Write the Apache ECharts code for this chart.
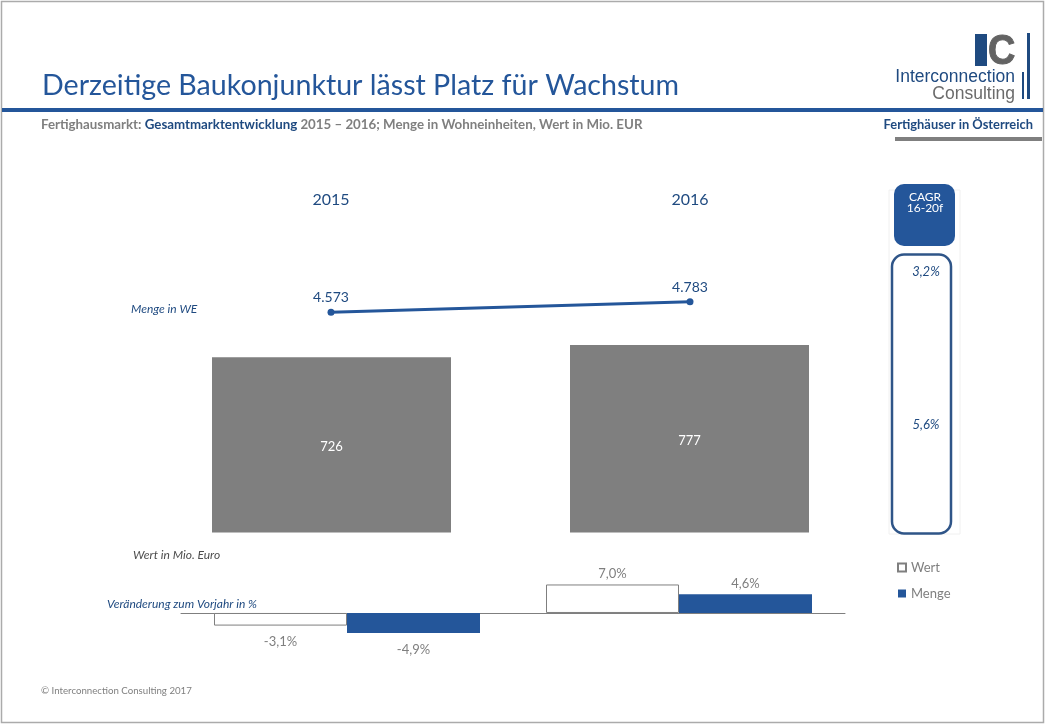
<!DOCTYPE html>
<html>
<head>
<meta charset="utf-8">
<style>html,body{margin:0;padding:0;background:#fff}#main{width:1046px;height:725px}</style>
<script src="https://cdn.jsdelivr.net/npm/echarts@6/dist/echarts.min.js"></script>
</head>
<body>
<div id="main"></div>
<script>
var years = ['2015', '2016'];
var mengeWE = [4573, 4783];
var wertMio = [726, 777];
var changeWert = [-3.1, 7.0];
var changeMenge = [-4.9, 4.6];
var cagrLabels = ['3,2%', '5,6%'];

var BLUE = '#24569a';
var NAVY = '#1f4a80';
var GREY = '#7f7f7f';
var FONT = 'Lato, "Noto Sans", sans-serif';

var myChart = echarts.init(document.getElementById('main'));

function comma(v, digits) {
  return v.toFixed(digits).replace('.', ',');
}

function note(x, y, text, color) {
  return {
    type: 'text', x: x, y: y,
    style: { text: text, fill: color, font: 'italic 12px ' + FONT, textVerticalAlign: 'middle' }
  };
}

// Beschriftung unter negativen Balken sitzt etwas weiter weg
function changeData(values) {
  return values.map(function (v) {
    return { value: v, label: { distance: v < 0 ? 10 : 4 } };
  });
}

var changeLabel = {
  show: true, position: 'outside', color: GREY, fontSize: 13,
  formatter: function (p) { return comma(p.value, 1) + '%'; }
};

var option = {
  animation: false,
  backgroundColor: '#fff',
  textStyle: { fontFamily: FONT },
  title: [{
    text: 'Derzeitige Baukonjunktur lässt Platz für Wachstum',
    left: 42, top: 71, padding: 0,
    textStyle: { color: BLUE, fontSize: 28.6, fontWeight: 'normal', fontFamily: FONT }
  }, {
    text: '{a|Fertighausmarkt: }{b|Gesamtmarktentwicklung}{a| 2015 – 2016; Menge in Wohneinheiten, Wert in Mio. EUR}',
    left: 41, top: 118, padding: 0,
    textStyle: {
      rich: {
        a: { color: GREY, fontSize: 13.3, fontFamily: FONT, fontWeight: 'bold' },
        b: { color: NAVY, fontSize: 13.3, fontFamily: FONT, fontWeight: 'bold' }
      }
    }
  }, {
    text: 'Fertighäuser in Österreich',
    right: 13, top: 118, padding: 0,
    textStyle: { color: NAVY, fontSize: 12.9, fontFamily: FONT, fontWeight: 'bold' }
  }],
  legend: {
    data: ['Wert', 'Menge'],
    orient: 'vertical',
    left: 897, top: 561, padding: 0,
    itemWidth: 8, itemHeight: 8, itemGap: 13,
    icon: 'rect',
    textStyle: { color: GREY, fontSize: 13 }
  },
  grid: [
    { left: 151.5, width: 718, top: 291, height: 50 },
    { left: 152.5, width: 716, top: 339.5, height: 193 },
    { left: 181, width: 664, top: 580.4, height: 57 }
  ],
  xAxis: [{
    gridIndex: 0, type: 'category', data: years, position: 'top',
    axisLine: { show: false }, axisTick: { show: false },
    axisLabel: { color: NAVY, fontSize: 16, margin: 83 }
  }, {
    gridIndex: 1, type: 'category', data: years,
    axisLine: { show: false }, axisTick: { show: false }, axisLabel: { show: false }
  }, {
    gridIndex: 2, type: 'category', data: years,
    axisLine: { onZero: true, lineStyle: { color: GREY, width: 1 } },
    axisTick: { show: false }, axisLabel: { show: false }
  }],
  yAxis: [{
    gridIndex: 0, type: 'value', min: 4000, max: 5000, show: false, splitLine: { show: false }
  }, {
    gridIndex: 1, type: 'value', min: 0, max: 800, show: false, splitLine: { show: false }
  }, {
    gridIndex: 2, type: 'value', min: -6, max: 8, show: false, splitLine: { show: false }
  }],
  series: [{
    name: 'Menge in WE', type: 'line', xAxisIndex: 0, yAxisIndex: 0,
    data: mengeWE,
    symbol: 'circle', symbolSize: 7,
    lineStyle: { color: BLUE, width: 3 },
    itemStyle: { color: BLUE },
    label: {
      show: true, position: 'top', distance: 4,
      color: NAVY, fontSize: 14,
      formatter: function (p) { return String(p.value).replace(/(\d)(\d{3})$/, '$1.$2'); }
    }
  }, {
    name: 'Wert in Mio. Euro', type: 'bar', xAxisIndex: 1, yAxisIndex: 1,
    data: wertMio,
    barWidth: 239,
    itemStyle: { color: GREY },
    label: { show: true, position: 'inside', offset: [0, 2], color: '#fff', fontSize: 13 }
  }, {
    name: 'Wert', type: 'bar', xAxisIndex: 2, yAxisIndex: 2,
    data: changeData(changeWert),
    barWidth: 133, barGap: 0,
    itemStyle: { color: '#fff', borderColor: GREY, borderWidth: 1 },
    label: changeLabel
  }, {
    name: 'Menge', type: 'bar', xAxisIndex: 2, yAxisIndex: 2,
    data: changeData(changeMenge),
    barWidth: 133, barGap: 0,
    itemStyle: { color: BLUE },
    label: changeLabel
  }],
  graphic: [
    // Rahmen und Kopflinien
    { type: 'rect', shape: { x: 1.5, y: 1.5, width: 1042, height: 721 }, style: { fill: 'none', stroke: '#ababab', lineWidth: 1.5 }, z: -1 },
    { type: 'rect', shape: { x: 2, y: 108, width: 1041, height: 4 }, style: { fill: BLUE } },
    { type: 'rect', shape: { x: 895, y: 137, width: 147, height: 4 }, style: { fill: GREY } },
    // Logo
    { type: 'rect', shape: { x: 975, y: 34, width: 12, height: 32 }, style: { fill: NAVY } },
    { type: 'text', x: 988, y: 52, scaleX: 0.88, style: { text: 'C', fill: '#636363', stroke: '#636363', lineWidth: 1, font: 'bold 43px "Liberation Sans"', textVerticalAlign: 'middle' } },
    { type: 'rect', shape: { x: 1027, y: 33, width: 3, height: 66 }, style: { fill: NAVY } },
    { type: 'rect', shape: { x: 1022, y: 72, width: 2, height: 27 }, style: { fill: NAVY } },
    { type: 'text', x: 1015, y: 77, style: { text: 'Interconnection', fill: NAVY, font: '17.5px "Liberation Sans"', textAlign: 'right', textVerticalAlign: 'middle' } },
    { type: 'text', x: 1015, y: 94, style: { text: 'Consulting', fill: '#6b6b6b', font: '17.5px "Liberation Sans"', textAlign: 'right', textVerticalAlign: 'middle' } },
    // CAGR Spalte
    { type: 'rect', shape: { x: 889, y: 190, width: 71, height: 344 }, style: { fill: 'none', stroke: '#f0f0f0', lineWidth: 1 } },
    { type: 'rect', shape: { x: 894, y: 184, width: 61, height: 62, r: 10 }, style: { fill: BLUE } },
    { type: 'text', x: 925, y: 197, style: { text: 'CAGR', fill: '#fff', font: '12px ' + FONT, textAlign: 'center', textVerticalAlign: 'middle' } },
    { type: 'text', x: 925, y: 208, style: { text: '16-20f', fill: '#fff', font: '12px ' + FONT, textAlign: 'center', textVerticalAlign: 'middle' } },
    { type: 'rect', shape: { x: 892, y: 254.5, width: 59, height: 279, r: 12 }, style: { fill: '#fff', stroke: '#2f5588', lineWidth: 2.5 } },
    { type: 'text', x: 926, y: 272, style: { text: cagrLabels[0], fill: NAVY, font: 'italic 13px ' + FONT, textAlign: 'center', textVerticalAlign: 'middle' } },
    { type: 'text', x: 926, y: 425, style: { text: cagrLabels[1], fill: NAVY, font: 'italic 13px ' + FONT, textAlign: 'center', textVerticalAlign: 'middle' } },
    // Beschriftungen
    note(131, 309, 'Menge in WE', NAVY),
    note(133, 555, 'Wert in Mio. Euro', '#4d4d4d'),
    note(107, 604, 'Veränderung zum Vorjahr in %', NAVY),
    { type: 'text', x: 41, y: 691, style: { text: '© Interconnection Consulting 2017', fill: GREY, font: '9.7px ' + FONT, textVerticalAlign: 'middle' } }
  ]
};
myChart.setOption(option);
</script>
</body>
</html>
